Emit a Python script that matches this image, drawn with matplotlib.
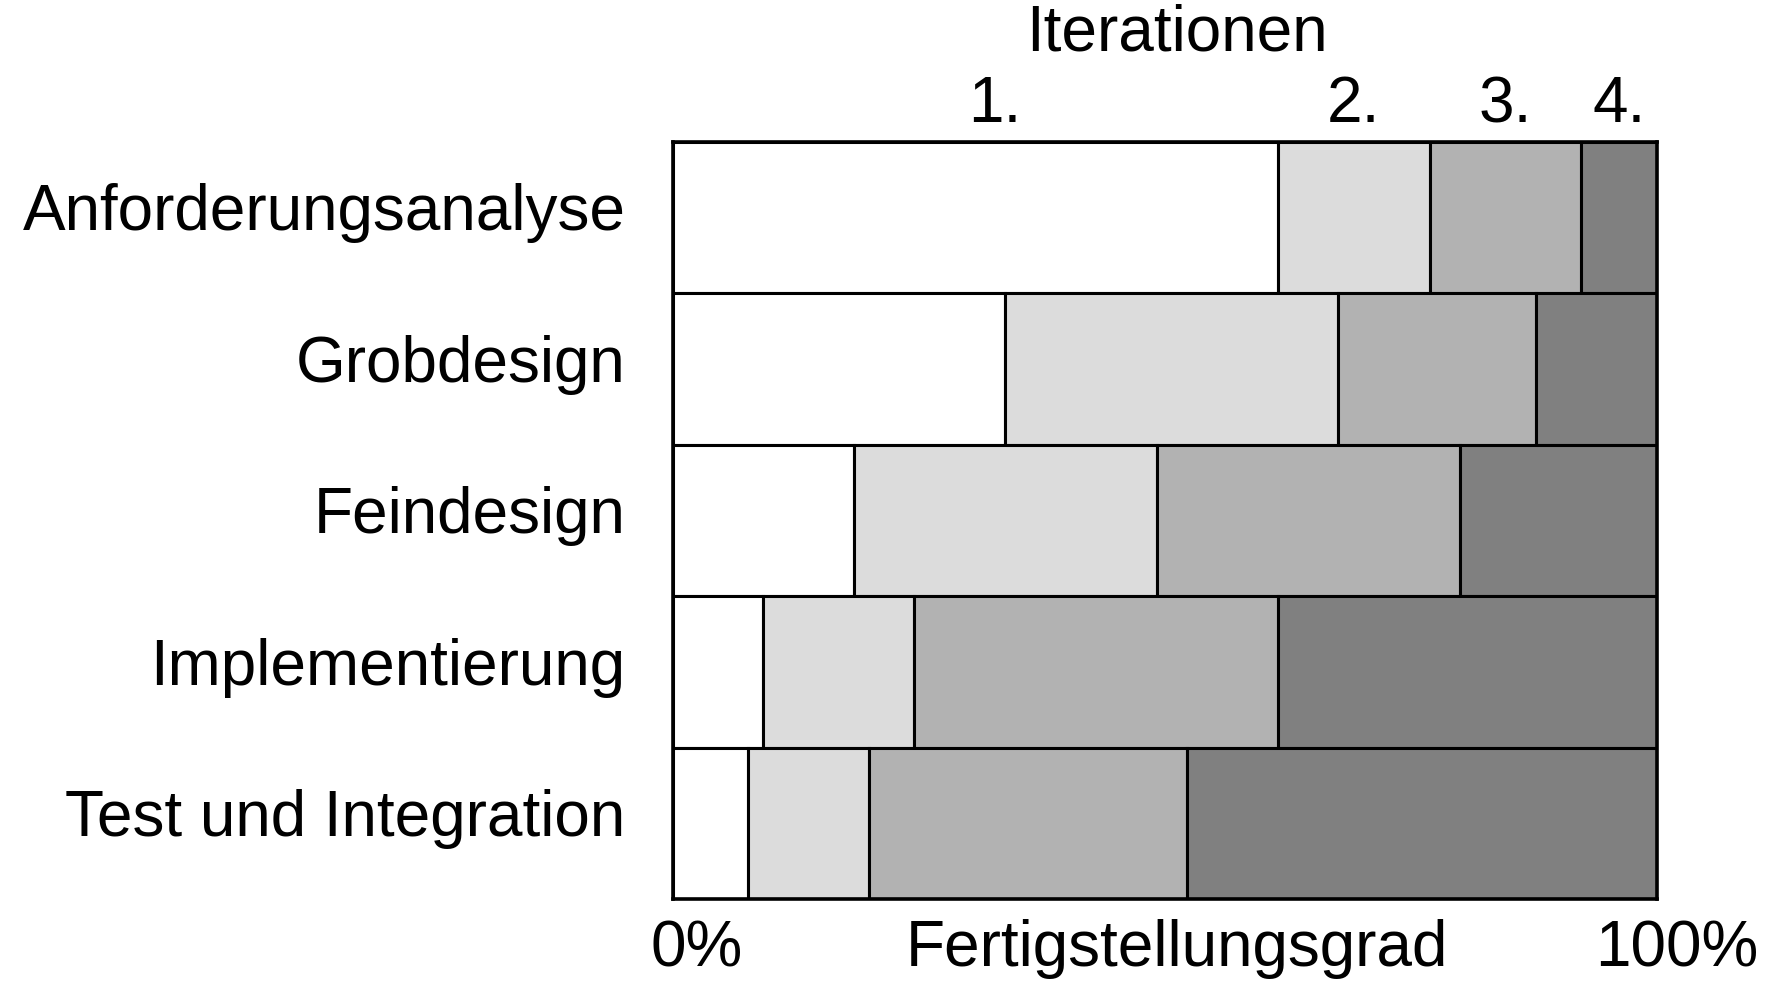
import numpy as np
import matplotlib.pyplot as plt
import matplotlib.transforms as mtransforms

plt.rcParams['font.family'] = ['Liberation Sans', 'DejaVu Sans']

# Phasen (von oben nach unten) und Anteile je Iteration in %
phasen = ['Anforderungsanalyse', 'Grobdesign', 'Feindesign',
          'Implementierung', 'Test und Integration']
iter_1 = [61.5, 33.8, 18.4, 9.2, 7.6]
iter_2 = [15.4, 33.8, 30.8, 15.3, 12.3]
iter_3 = [15.4, 20.1, 30.8, 37.0, 32.4]
iter_4 = [7.7, 12.3, 20.0, 38.5, 47.7]
iter_labels = ['1.', '2.', '3.', '4.']
farben = ['#ffffff', '#dcdcdc', '#b2b2b2', '#808080']

fs = 46

fig = plt.figure(figsize=(17.75, 9.85), dpi=100)
ax = fig.add_axes([0.379, 0.0873, 0.5545, 0.769])

y = np.arange(len(phasen))
werte = np.array([iter_1, iter_2, iter_3, iter_4])
links = np.zeros(len(phasen))
for i in range(4):
    ax.barh(y, werte[i], left=links, height=1.0, color=farben[i],
            edgecolor='black', linewidth=2.2)
    links += werte[i]

ax.set_xlim(0, 100)
ax.set_ylim(len(phasen) - 0.5, -0.5)
ax.set_xticks([])
ax.set_yticks(y)
ax.set_yticklabels(phasen, fontsize=fs)
ax.tick_params(axis='y', length=0, pad=34)
# Beschriftungen etwas nach oben schieben
hoch = mtransforms.ScaledTranslation(0, 7.5 / 72, fig.dpi_scale_trans)
for t in ax.get_yticklabels():
    t.set_transform(t.get_transform() + hoch)
for s in ax.spines.values():
    s.set_linewidth(2.6)
    s.set_zorder(5)

# Iterationsbeschriftung oben, mittig über den Segmenten der ersten Zeile
kum = np.cumsum(werte[:, 0])
mitten = kum - werte[:, 0] / 2
mitten[0] += 2
for lab, xm in zip(iter_labels, mitten):
    ax.text(xm, 1.048, lab, transform=ax.get_xaxis_transform(),
            ha='center', va='center', fontsize=fs)
ax.text(0.512, 1.142, 'Iterationen', transform=ax.transAxes,
        ha='center', va='center', fontsize=fs)

# Achsenbeschriftung unten
ax.text(0.024, -0.066, '0%', transform=ax.transAxes, ha='center', va='center', fontsize=fs)
ax.text(0.512, -0.066, 'Fertigstellungsgrad', transform=ax.transAxes,
        ha='center', va='center', fontsize=fs)
ax.text(1.020, -0.066, '100%', transform=ax.transAxes, ha='center', va='center', fontsize=fs)

fig.savefig('out.png', dpi=100)
